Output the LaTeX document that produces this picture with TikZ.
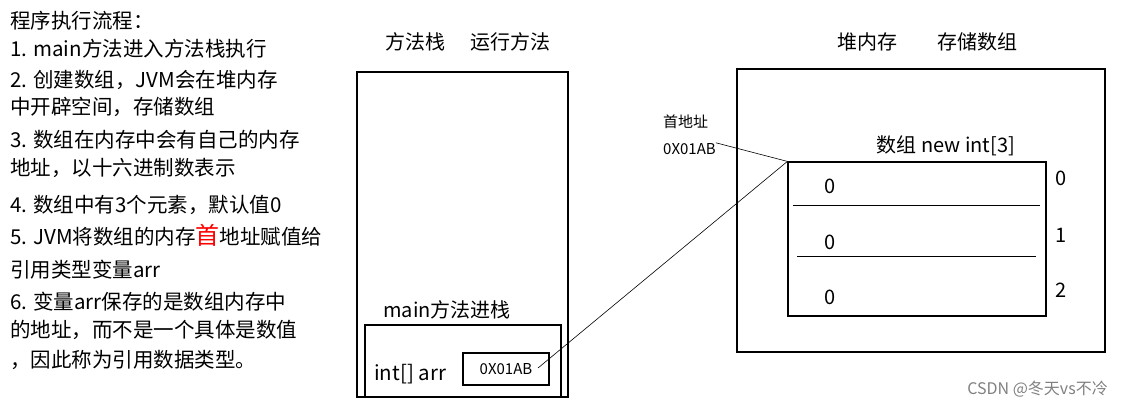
\documentclass[tikz,border=0pt]{standalone}
\usepackage{fontspec}
\newfontfamily\cjk{Noto Sans CJK SC}
\begin{document}
\begin{tikzpicture}[x=1pt,y=-1pt,
	note/.style={anchor=base west,inner sep=0pt,font=\cjk\fontsize{20.5}{24}\selectfont},
	head/.style={anchor=base,inner sep=0pt,font=\cjk\fontsize{20}{24}\selectfont},
	tiny/.style={anchor=base west,inner sep=0pt,font=\cjk\fontsize{15}{18}\selectfont},
	box/.style={draw,line width=1.2pt},
	wire/.style={line width=0.6pt}]
		\useasboundingbox (0,0) rectangle (1125,410);
		% steps on the left
		\node[note] (t0) at (10,28) {程序执行流程：};
		\node[note] (t1) at (10,56) {1. main方法进入方法栈执行};
		\node[note] (t2) at (10,87) {2. 创建数组，JVM会在堆内存};
		\node[note] (t3) at (10,114) {中开辟空间，存储数组};
		\node[note] (t4) at (10,147) {3. 数组在内存中会有自己的内存};
		\node[note] (t5) at (10,175) {地址，以十六进制数表示};
		\node[note] (t6) at (10,212) {4. 数组中有3个元素，默认值0};
		\node[note] (t7) at (10,244) {5. JVM将数组的内存{\color{red}\fontsize{24}{24}\selectfont 首}地址赋值给};
		\node[note] (t8) at (10,277) {引用类型变量arr};
		\node[note] (t9) at (10,309) {6. 变量arr保存的是数组内存中};
		\node[note] (t10) at (10,337) {的地址，而不是一个具体是数值};
		\node[note] (t11) at (10,367) {，因此称为引用数据类型。};
		% method stack
		\node[head] (stackhd) at (415,49) {方法栈};
		\node[head] (runhd) at (510,49) {运行方法};
		\draw[box] (357,72) rectangle (568,397);
		\draw[box] (365,325) rectangle (561,397);
		\node[head] (mainhd) at (447,317) {main方法进栈};
		\node[note] (var) at (374,380) {int[] arr};
		\node[box,minimum width=86pt,minimum height=32pt,inner sep=0pt,font=\cjk\fontsize{15}{18}\selectfont] (addr) at (506,369) {0X01AB};
		\coordinate (ptr) at (538,368);
		% heap
		\node[head] (heaphd) at (867,49) {堆内存};
		\node[head] (savehd) at (977,49) {存储数组};
		\draw[box] (737,69) rectangle (1105,352);
		\node[box,minimum width=258pt,minimum height=154pt] (array) at (917,239) {};
		\draw[line width=1pt] (793,205) -- (1040,205);
		\draw[line width=1pt] (797,256) -- (1036,256);
		\node[head] (arrhd) at (946,152) {数组 new int[3]};
		\node[head] (v0) at (830,193) {0};
		\node[head] (v1) at (830,249) {0};
		\node[head] (v2) at (830,304) {0};
		\node[head] (i0) at (1061,185) {0};
		\node[head] (i1) at (1061,242) {1};
		\node[head] (i2) at (1061,297) {2};
		\node[tiny] (firsthd) at (663,127) {首地址};
		\node[tiny] (lbladdr) at (663,154) {0X01AB};
		\draw[wire] (lbladdr.north east) -- (array.north west);
		\draw[wire] (ptr) -- (array.north west);
		\node[anchor=base east,inner sep=0pt,text=gray,font=\cjk\fontsize{16}{18}\selectfont] (mark) at (1108,394) {CSDN @冬天vs不冷};
	\end{tikzpicture}
\end{document}
